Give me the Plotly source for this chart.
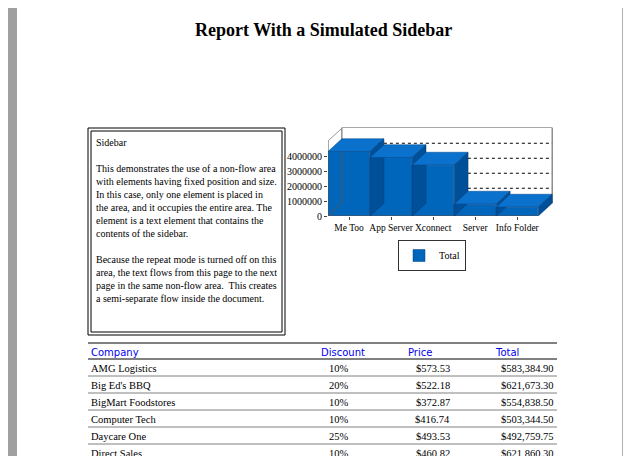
import plotly.graph_objects as go

W, H = 631, 456

products = ["Me Too", "App Server", "Xconnect", "Server", "Info Folder"]
totals = [4300000, 3900000, 3400000, 800000, 600000]
y_ticks = [0, 1000000, 2000000, 3000000, 4000000]

companies = ["AMG Logistics", "Big Ed's BBQ", "BigMart Foodstores", "Computer Tech", "Daycare One", "Direct Sales"]
discounts = ["10%", "20%", "10%", "10%", "25%", "10%"]
prices = ["$573.53", "$522.18", "$372.87", "$416.74", "$493.53", "$460.82"]
row_totals = ["$583,384.90", "$621,673.30", "$554,838.50", "$503,344.50", "$492,759.75", "$621,860.30"]

sidebar_text = ("Sidebar<br><br>This demonstrates the use of a non-flow area<br>"
                "with elements having fixed position and size.<br>"
                "In this case, only one element is placed in<br>"
                "the area, and it occupies the entire area. The<br>"
                "element is a text element that contains the<br>"
                "contents of the sidebar.<br><br>"
                "Because the repeat mode is turned off on this<br>"
                "area, the text flows from this page to the next<br>"
                "page in the same non-flow area.  This creates<br>"
                "a semi-separate flow inside the document.")

serif = "Liberation Serif"
blue = "#0066bb"
top_col = "#0a72cc"
side_col = "#004f99"
dx, dy = 0.33, 850000
ytop = 5900000

def px(xp):
    return xp / W

def py(yp):
    return 1 - yp / H

fig = go.Figure()
fig.add_trace(go.Bar(x=list(range(len(products))), y=totals, name="Total",
                     marker=dict(color=blue, line=dict(color="#004488", width=0.5)),
                     width=1.0, showlegend=True))

shapes = []
# back wall and gridlines
shapes.append(dict(type="path", xref="x", yref="y",
                   path=f"M -0.5,0 L {-0.5+dx},{dy} L {-0.5+dx},{ytop} L {4.5+dx},{ytop} L {4.5+dx},{dy}",
                   line=dict(color="#555", width=1)))
shapes.append(dict(type="line", xref="x", yref="y", x0=-0.5, x1=-0.5, y0=0, y1=5000000,
                   line=dict(color="#555", width=1)))
shapes.append(dict(type="line", xref="x", yref="y", x0=-0.5, x1=-0.5+dx, y0=5000000, y1=5000000+dy,
                   line=dict(color="#999", width=1)))
shapes.append(dict(type="line", xref="x", yref="y", x0=-0.5, x1=4.5, y0=0, y1=0,
                   line=dict(color="#555", width=1)))
for t in y_ticks[1:]:
    shapes.append(dict(type="line", xref="x", yref="y", x0=-0.5+dx, x1=4.5+dx, y0=t+dy, y1=t+dy,
                       line=dict(color="black", width=1, dash="dot"), layer="below"))
    shapes.append(dict(type="line", xref="x", yref="y", x0=-0.5, x1=-0.5+dx, y0=t, y1=t+dy,
                       line=dict(color="#999", width=1), layer="below"))
# 3D faces of bars
for i, v in enumerate(totals):
    l, r = i - 0.5, i + 0.5
    shapes.append(dict(type="path", xref="x", yref="y",
                       path=f"M {l},{v} L {l+dx},{v+dy} L {r+dx},{v+dy} L {r},{v} Z",
                       fillcolor=top_col, line=dict(color="#004488", width=0.5)))
    shapes.append(dict(type="path", xref="x", yref="y",
                       path=f"M {r},0 L {r+dx},{dy} L {r+dx},{v+dy} L {r},{v} Z",
                       fillcolor=side_col, line=dict(color="#003d77", width=0.5)))
# sidebar double border
shapes.append(dict(type="rect", xref="paper", yref="paper", x0=px(80), x1=px(277), y0=py(327), y1=py(120),
                   line=dict(color="black", width=1)))
shapes.append(dict(type="rect", xref="paper", yref="paper", x0=px(83), x1=px(274), y0=py(324), y1=py(123),
                   line=dict(color="black", width=1)))
# page sides
shapes.append(dict(type="rect", xref="paper", yref="paper", x0=0, x1=px(9), y0=0, y1=1,
                   fillcolor="#a0a0a0", line=dict(width=0)))
shapes.append(dict(type="rect", xref="paper", yref="paper", x0=px(615), x1=1, y0=0, y1=1,
                   fillcolor="#a0a0a0", line=dict(width=0)))
shapes.append(dict(type="line", xref="paper", yref="paper", x0=px(615), x1=px(615), y0=0, y1=1,
                   line=dict(color="#606060", width=1)))
# table lines
for yl, wdt in [(335, 2), (351, 2)] + [(368 + 17 * k, 1) for k in range(6)]:
    shapes.append(dict(type="line", xref="paper", yref="paper", x0=px(80), x1=px(549), y0=py(yl), y1=py(yl),
                       line=dict(color="#808080", width=wdt)))

ann = []
ann.append(dict(text="<b>Report With a Simulated Sidebar</b>", x=px(315), y=py(22), xref="paper", yref="paper",
                xanchor="center", yanchor="middle",
                showarrow=False, font=dict(family=serif, size=18, color="black")))
ann.append(dict(text=sidebar_text, x=px(86), y=py(127), xref="paper", yref="paper", xanchor="left", yanchor="top",
                align="left", showarrow=False, font=dict(family=serif, size=10, color="black")))
for name, xp in [("Company", 81), ("Discount", 311), ("Price", 398), ("Total", 485)]:
    ann.append(dict(text=name, x=px(xp), y=py(344), xref="paper", yref="paper", xanchor="left", yanchor="middle",
                    showarrow=False, font=dict(family="DejaVu Sans", size=10, color="#0000ee")))
for k in range(len(companies)):
    yc = py(360 + 17 * k)
    f = dict(family=serif, size=10.5, color="black")
    common = dict(y=yc, xref="paper", yref="paper", yanchor="middle", showarrow=False, font=f)
    ann.append(dict(text=companies[k], x=px(81), xanchor="left", **common))
    ann.append(dict(text=discounts[k], x=px(331), xanchor="center", **common))
    ann.append(dict(text=prices[k], x=px(444), xanchor="right", **common))
    ann.append(dict(text=row_totals[k], x=px(548), xanchor="right", **common))

fig.update_layout(
    width=W, height=H, margin=dict(l=0, r=0, t=0, b=0, autoexpand=False),
    paper_bgcolor="white", plot_bgcolor="rgba(0,0,0,0)",
    bargap=0, shapes=shapes, annotations=ann,
    font=dict(family=serif, size=10, color="black"),
    xaxis=dict(domain=[px(320), px(545)], range=[-0.5, 4.85], tickvals=list(range(len(products))),
               ticktext=products, showgrid=False, zeroline=False, ticks="outside", ticklen=3,
               tickangle=0, automargin=False, tickfont=dict(family=serif, size=9.5)),
    yaxis=dict(domain=[py(208), py(119.5)], range=[0, ytop], tickvals=y_ticks,
               ticktext=[str(t) for t in y_ticks], showgrid=False, zeroline=False, automargin=False,
               ticks="outside", ticklen=3, tickfont=dict(family=serif, size=10)),
    legend=dict(x=px(390), y=py(232), xanchor="left", yanchor="top", bordercolor="#333", borderwidth=1,
                bgcolor="white", itemwidth=30, font=dict(family=serif, size=10)),
)

fig.write_html("out.html")
